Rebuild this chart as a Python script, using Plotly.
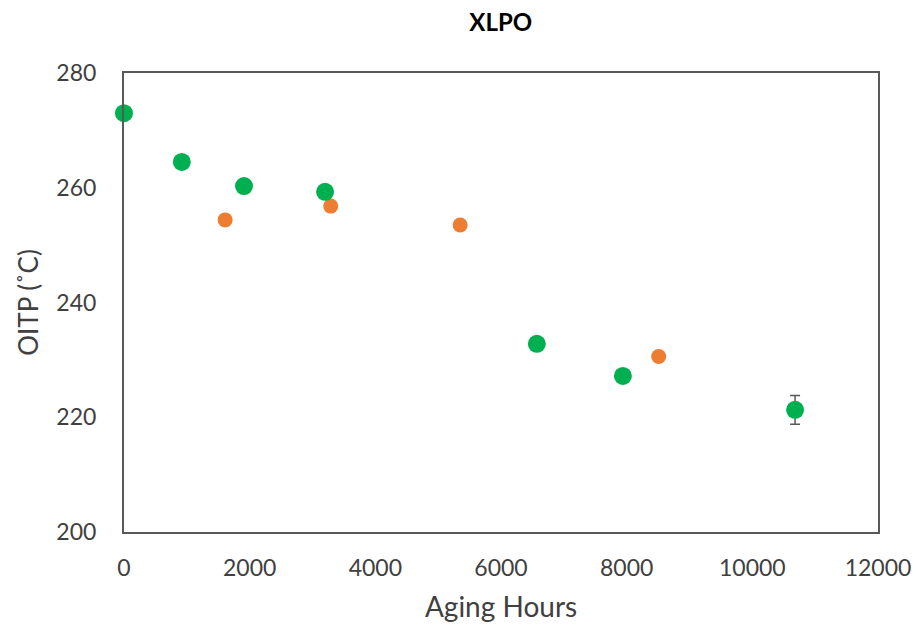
import plotly.graph_objects as go

# Green series (with one error bar on the last point)
green_hours = [0, 920, 1910, 3200, 6570, 7940, 10680]
green_oitp = [273.0, 264.5, 260.3, 259.3, 232.8, 227.2, 221.3]
green_err = [None, None, None, None, None, None, 2.5]

# Orange series
orange_hours = [1610, 3290, 5350, 8510]
orange_oitp = [254.4, 256.8, 253.5, 230.6]

x_ticks = [0, 2000, 4000, 6000, 8000, 10000, 12000]
y_ticks = [200, 220, 240, 260, 280]

FONT = "Lato"
AXIS_COLOR = "#595959"

fig = go.Figure()
fig.add_trace(go.Scatter(
    x=orange_hours, y=orange_oitp, mode="markers",
    marker=dict(color="#ED7D31", size=15, line=dict(width=0)),
    showlegend=False, cliponaxis=False,
))
fig.add_trace(go.Scatter(
    x=green_hours, y=green_oitp, mode="markers",
    marker=dict(color="#00B050", size=18, line=dict(width=0)),
    error_y=dict(type="data", array=green_err, visible=True,
                 color="#595959", thickness=1.5, width=5),
    showlegend=False, cliponaxis=False,
))

fig.update_layout(
    width=921, height=628,
    margin=dict(l=116, r=51, t=65, b=104),
    paper_bgcolor="white", plot_bgcolor="white",
    font=dict(family=FONT, color="#404040"),
    title=dict(text="<b>XLPO</b>", x=0.535, xanchor="center", y=0.99, yanchor="top",
               font=dict(family=FONT, size=24, color="black")),
)
fig.update_xaxes(
    range=[0, 12000], tickvals=x_ticks, ticktext=[str(v) for v in x_ticks],
    showgrid=False, zeroline=False, showline=True, mirror=True, automargin=False,
    linecolor=AXIS_COLOR, linewidth=2, ticks="", ticklabelstandoff=14,
    tickfont=dict(family=FONT, size=23, color="#404040"),
    title=dict(text="Aging Hours", font=dict(family=FONT, size=28, color="#404040"), standoff=18),
)
fig.update_yaxes(
    range=[200, 280], tickvals=y_ticks, ticktext=[str(v) for v in y_ticks],
    showgrid=False, zeroline=False, showline=True, mirror=True, automargin=False,
    linecolor=AXIS_COLOR, linewidth=2, ticks="", ticklabelstandoff=21,
    tickfont=dict(family=FONT, size=23, color="#404040"),
    title=dict(text="OITP (˚C)", font=dict(family=FONT, size=26, color="#404040"), standoff=10),
)

fig.write_html("out.html")
